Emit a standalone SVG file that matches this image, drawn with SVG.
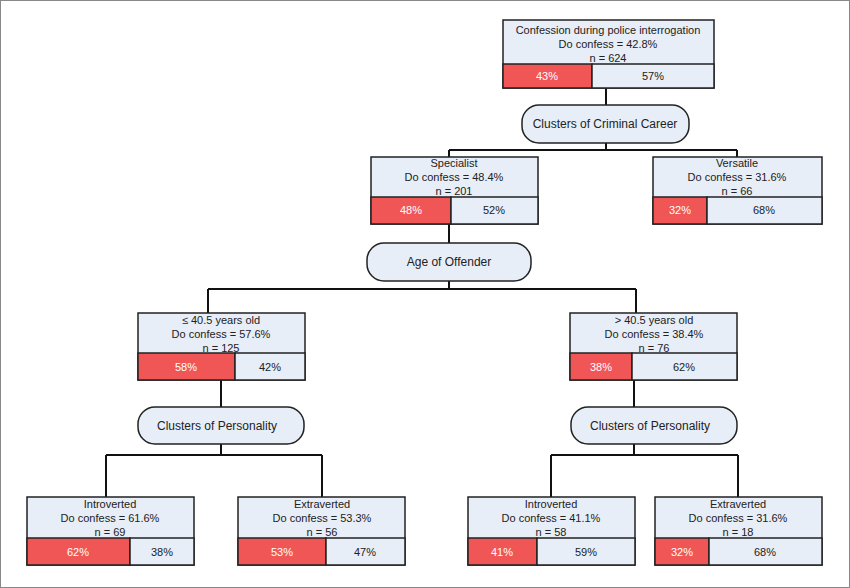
<svg xmlns="http://www.w3.org/2000/svg" width="850" height="588" viewBox="0 0 850 588">
<style>
.b{fill:#e8eef7;stroke:#222;stroke-width:1.5}
.r{fill:#f05656;stroke:#222;stroke-width:1.5}
.d{fill:#e8eef7;stroke:#222;stroke-width:1.5}
.c{fill:none;stroke:#111;stroke-width:2}
text{font-family:"Liberation Sans",Arial,sans-serif;font-size:11px;fill:#222;text-anchor:middle}
.w{fill:#fff}
.dt{font-size:12px}
</style>
<rect x="0.5" y="0.5" width="849" height="587" fill="#fff" stroke="#888"/>
<g id="connectors">
<path class="c" d="M606 88V105M606 143V150M449 150H737M449 150V157M737 150V157"/>
<path class="c" d="M449 224V243M449 281V289M208 289H636M208 289V313M636 289V313"/>
<path class="c" d="M221 380V407M221 444V455M106 455H322M106 455V497M322 455V497"/>
<path class="c" d="M634 380V407M634 444V455M551 455H738M551 455V497M738 455V497"/>
</g>
<g id="root">
<rect class="b" x="503" y="20" width="211" height="68"/>
<rect class="r" x="503" y="64" width="89" height="24"/>
<rect class="b" x="592" y="64" width="122" height="24"/>
<text x="608" y="34">Confession during police interrogation</text>
<text x="608" y="48">Do confess = 42.8%</text>
<text x="608" y="62">n = 624</text>
<text class="w" x="547" y="80">43%</text>
<text x="653" y="80">57%</text>
</g>
<g id="dec1"><rect class="d" x="522" y="105" width="167" height="38" rx="17"/><text class="dt" x="605" y="128">Clusters of Criminal Career</text></g>
<g id="specialist">
<rect class="b" x="371" y="157" width="167" height="67"/>
<rect class="r" x="371" y="197" width="80" height="27"/>
<rect class="b" x="451" y="197" width="87" height="27"/>
<text x="454" y="167">Specialist</text><text x="454" y="181">Do confess = 48.4%</text><text x="454" y="195">n = 201</text>
<text class="w" x="411" y="214">48%</text><text x="494" y="214">52%</text>
</g>
<g id="versatile">
<rect class="b" x="653" y="157" width="169" height="67"/>
<rect class="r" x="653" y="197" width="54" height="27"/>
<rect class="b" x="707" y="197" width="115" height="27"/>
<text x="737" y="167">Versatile</text><text x="737" y="181">Do confess = 31.6%</text><text x="737" y="195">n = 66</text>
<text class="w" x="680" y="214">32%</text><text x="764" y="214">68%</text>
</g>
<g id="dec2"><rect class="d" x="367" y="243" width="164" height="38" rx="17"/><text class="dt" x="449" y="266">Age of Offender</text></g>
<g id="young">
<rect class="b" x="138" y="313" width="167" height="67"/>
<rect class="r" x="138" y="353" width="97" height="27"/>
<rect class="b" x="235" y="353" width="70" height="27"/>
<text x="221" y="324">≤ 40.5 years old</text><text x="221" y="338">Do confess = 57.6%</text><text x="221" y="352">n = 125</text>
<text class="w" x="186" y="371">58%</text><text x="270" y="371">42%</text>
</g>
<g id="old">
<rect class="b" x="570" y="313" width="167" height="67"/>
<rect class="r" x="570" y="353" width="62" height="27"/>
<rect class="b" x="632" y="353" width="105" height="27"/>
<text x="654" y="324">&gt; 40.5 years old</text><text x="654" y="338">Do confess = 38.4%</text><text x="654" y="352">n = 76</text>
<text class="w" x="601" y="371">38%</text><text x="684" y="371">62%</text>
</g>
<g id="dec3"><rect class="d" x="138" y="407" width="166" height="37" rx="17"/><text class="dt" x="217" y="430">Clusters of Personality</text></g>
<g id="dec4"><rect class="d" x="571" y="407" width="166" height="37" rx="17"/><text class="dt" x="650" y="430">Clusters of Personality</text></g>
<g id="intro1">
<rect class="b" x="27" y="497" width="167" height="68"/>
<rect class="r" x="27" y="538" width="103" height="27"/>
<rect class="b" x="130" y="538" width="64" height="27"/>
<text x="110" y="508">Introverted</text><text x="110" y="522">Do confess = 61.6%</text><text x="110" y="536">n = 69</text>
<text class="w" x="78" y="556">62%</text><text x="162" y="556">38%</text>
</g>
<g id="extra1">
<rect class="b" x="238" y="497" width="167" height="68"/>
<rect class="r" x="238" y="538" width="88" height="27"/>
<rect class="b" x="326" y="538" width="79" height="27"/>
<text x="322" y="508">Extraverted</text><text x="322" y="522">Do confess = 53.3%</text><text x="322" y="536">n = 56</text>
<text class="w" x="282" y="556">53%</text><text x="365" y="556">47%</text>
</g>
<g id="intro2">
<rect class="b" x="468" y="497" width="167" height="68"/>
<rect class="r" x="468" y="538" width="69" height="27"/>
<rect class="b" x="537" y="538" width="98" height="27"/>
<text x="551" y="508">Introverted</text><text x="551" y="522">Do confess = 41.1%</text><text x="551" y="536">n = 58</text>
<text class="w" x="502" y="556">41%</text><text x="586" y="556">59%</text>
</g>
<g id="extra2">
<rect class="b" x="655" y="497" width="167" height="68"/>
<rect class="r" x="655" y="538" width="54" height="27"/>
<rect class="b" x="709" y="538" width="113" height="27"/>
<text x="738" y="508">Extraverted</text><text x="738" y="522">Do confess = 31.6%</text><text x="738" y="536">n = 18</text>
<text class="w" x="682" y="556">32%</text><text x="765" y="556">68%</text>
</g>
</svg>
